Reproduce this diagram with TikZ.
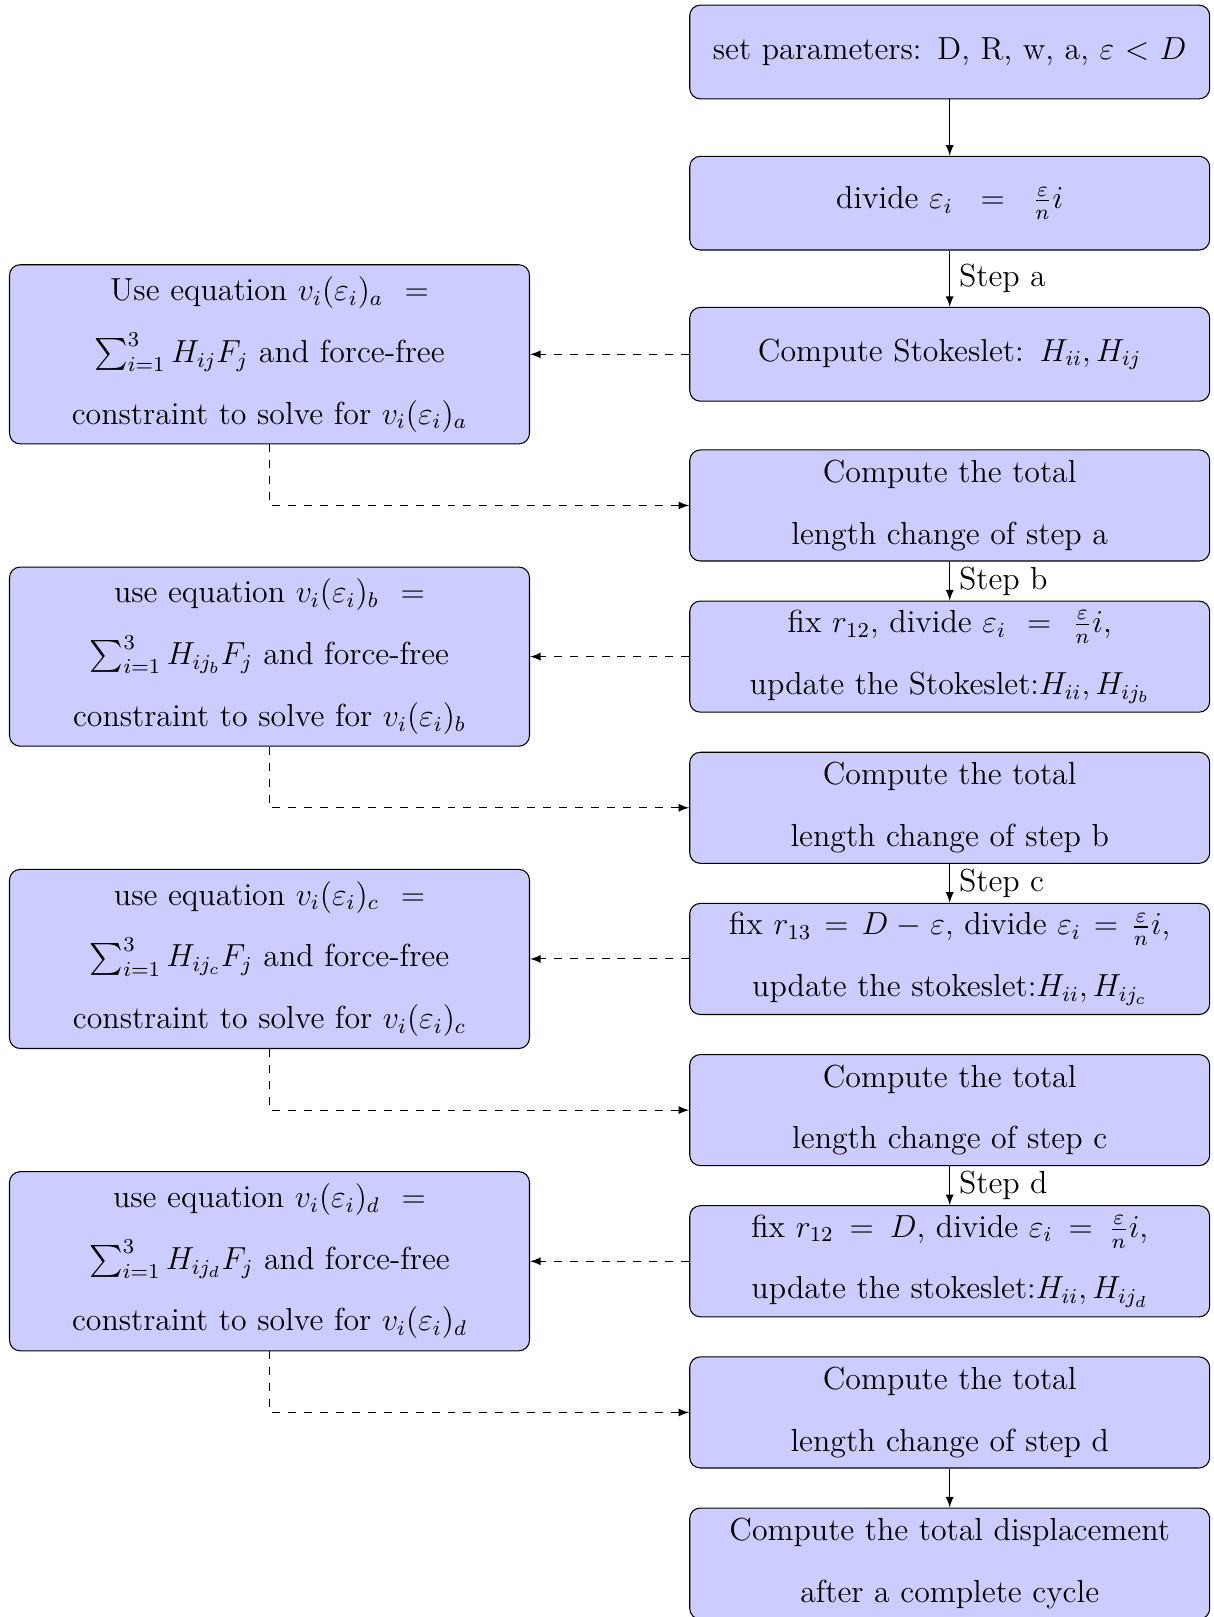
\documentclass[tikz,border=0pt]{standalone}
\usepackage{amsmath}
\usetikzlibrary{positioning}
\begin{document}
\begin{tikzpicture}[node distance=2cm, on grid, >=latex, font=\large,
  block/.style={draw, rounded corners, fill=blue!20, align=center,
    text width=6.6cm, minimum width=6.88cm, minimum height=1.24cm,
    font=\large\linespread{1.66}\selectfont},
  tall/.style={minimum height=1.47cm},
  solver/.style={block, minimum height=2.37cm}]
\useasboundingbox (-12.566,0.688) rectangle (3.486,-20.707);
% main column
\node[block] (params) {set parameters: D, R, w, a, $\varepsilon < D$};
\node[block, below=of params] (divide) {divide $\varepsilon_i = \frac{\varepsilon}{n}i$};
\node[block, below=of divide] (stokes) {Compute Stokeslet: $H_{ii}, H_{ij}$};
\node[block, tall, below=of stokes] (totala) {Compute the total\\ length change of step a};
\node[block, tall, below=of totala] (fixb) {fix $r_{12}$, divide $\varepsilon_i = \frac{\varepsilon}{n}i$,\\ update the Stokeslet:$H_{ii}, H_{ij_b}$};
\node[block, tall, below=of fixb] (totalb) {Compute the total\\ length change of step b};
\node[block, tall, below=of totalb] (fixc) {fix $r_{13} = D-\varepsilon$, divide $\varepsilon_i = \frac{\varepsilon}{n}i$,\\ update the stokeslet:$H_{ii}, H_{ij_c}$};
\node[block, tall, below=of fixc] (totalc) {Compute the total\\ length change of step c};
\node[block, tall, below=of totalc] (fixd) {fix $r_{12} = D$, divide $\varepsilon_i = \frac{\varepsilon}{n}i$,\\ update the stokeslet:$H_{ii}, H_{ij_d}$};
\node[block, tall, below=of fixd] (totald) {Compute the total\\ length change of step d};
\node[block, tall, below=of totald] (cycle) {Compute the total displacement\\ after a complete cycle};
% solvers on the left
\node[solver, left=9cm of stokes] (solvea) {Use equation $v_i(\varepsilon_i)_a =$\\ $\sum_{i=1}^3 H_{ij}F_j$ and force-free\\ constraint to solve for $v_i(\varepsilon_i)_a$};
\node[solver, left=9cm of fixb] (solveb) {use equation $v_i(\varepsilon_i)_b =$\\ $\sum_{i=1}^3 H_{ij_b}F_j$ and force-free\\ constraint to solve for $v_i(\varepsilon_i)_b$};
\node[solver, left=9cm of fixc] (solvec) {use equation $v_i(\varepsilon_i)_c =$\\ $\sum_{i=1}^3 H_{ij_c}F_j$ and force-free\\ constraint to solve for $v_i(\varepsilon_i)_c$};
\node[solver, left=9cm of fixd] (solved) {use equation $v_i(\varepsilon_i)_d =$\\ $\sum_{i=1}^3 H_{ij_d}F_j$ and force-free\\ constraint to solve for $v_i(\varepsilon_i)_d$};
% arrows
\draw[->] (params) -- (divide);
\draw[->] (divide) -- node[right] {Step a} (stokes);
\draw[->] (totala) -- node[right] {Step b} (fixb);
\draw[->] (totalb) -- node[right] {Step c} (fixc);
\draw[->] (totalc) -- node[right] {Step d} (fixd);
\draw[->] (totald) -- (cycle);
\draw[->, dashed] (stokes) -- (solvea);
\draw[->, dashed] (fixb) -- (solveb);
\draw[->, dashed] (fixc) -- (solvec);
\draw[->, dashed] (fixd) -- (solved);
\draw[->, dashed] (solvea) |- (totala);
\draw[->, dashed] (solveb) |- (totalb);
\draw[->, dashed] (solvec) |- (totalc);
\draw[->, dashed] (solved) |- (totald);
\end{tikzpicture}
\end{document}
